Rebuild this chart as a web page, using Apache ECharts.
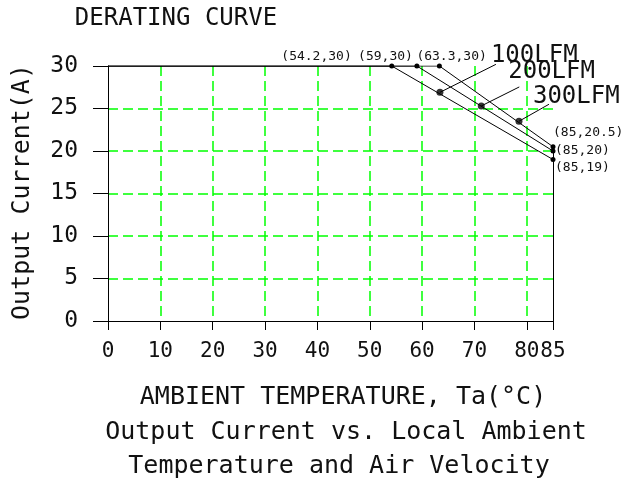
<!DOCTYPE html>
<html>
<head>
<meta charset="utf-8">
<script src="https://cdn.jsdelivr.net/npm/echarts@6/dist/echarts.min.js"></script>
<style>
html,body{margin:0;padding:0;background:#fff;}
#chart{width:626px;height:482px;}
</style>
</head>
<body>
<div id="chart"></div>
<script>
// ---- data ----
const chartTitle = 'DERATING CURVE';
const xAxisTitle = 'AMBIENT TEMPERATURE, Ta(°C)';
const subTitle1 = 'Output Current vs. Local Ambient';
const subTitle2 = 'Temperature and Air Velocity';
const yAxisTitle = 'Output Current(A)';
const xMin = 0, xMax = 85, xStep = 10;
const yMin = 0, yMax = 30, yStep = 5;
const flowNames = ['100LFM', '200LFM', '300LFM'];
const curve100 = [[0, 30], [54.2, 30], [85, 19]];
const curve200 = [[0, 30], [59, 30], [85, 20]];
const curve300 = [[0, 30], [63.3, 30], [85, 20.5]];
const leaderAnchors = [[63.4, 26.9], [71.3, 25.3], [78.5, 23.5]];
const edgeLine = [[85, 0], [85, 20.5]];

// ---- styles / layout (not data) ----
const MONO = '"DejaVu Sans Mono", "Liberation Mono", monospace';
const GREEN = '#00ff00';
const curves = [curve100, curve200, curve300];
// per-curve point label offsets: [knee, end]
const pointLabelStyle = [
  [{dx: -40, dy: -9, align: 'right'}, {dx: 2, dy: 8, align: 'left'}],
  [{dx: -4, dy: -9, align: 'right'}, {dx: 2, dy: 0, align: 'left'}],
  [{dx: -23, dy: -9, align: 'left'}, {dx: 0, dy: -14, align: 'left'}]
];
const leaderEnd = [[56, -28], [38, -19], [30, -17]];
const leaderText = [[51, -37], [27, -34], [14, -24]];

const chart = echarts.init(document.getElementById('chart'), null, {renderer: 'canvas'});

const series = curves.map((c, i) => ({
  type: 'line',
  name: flowNames[i],
  data: c.map((p, j) => ({value: p, symbol: j === 0 ? 'none' : 'circle'})),
  symbolSize: 5,
  lineStyle: {color: '#000', width: 1},
  itemStyle: {color: '#000'},
  animation: false,
  z: 5,
  markLine: i === 2 ? {
    silent: true, symbol: 'none', animation: false,
    lineStyle: {color: '#000', width: 1, type: 'solid'},
    label: {show: false},
    data: [[{coord: edgeLine[0]}, {coord: edgeLine[1]}]]
  } : undefined
}));
series.push({
  type: 'scatter',
  data: leaderAnchors,
  symbolSize: 7,
  itemStyle: {color: '#000'},
  animation: false,
  z: 6
});

chart.setOption({
  backgroundColor: '#fff',
  animation: false,
  grid: {left: 108, right: 73, top: 66, bottom: 161, containLabel: false},
  xAxis: {
    type: 'value', min: xMin, max: xMax, interval: xStep,
    axisLine: {show: true, onZero: false, lineStyle: {color: '#000', width: 1}},
    axisTick: {show: true, length: 9, lineStyle: {color: '#000', width: 1}},
    axisLabel: {show: true, margin: 20, color: '#111', fontFamily: MONO, fontSize: 21, showMaxLabel: true, hideOverlap: false},
    splitLine: {show: true, showMinLine: false, showMaxLine: false, lineStyle: {color: GREEN, width: 1.5, type: [10, 5]}}
  },
  yAxis: {
    type: 'value', min: yMin, max: yMax, interval: yStep,
    axisLine: {show: true, onZero: false, lineStyle: {color: '#000', width: 1}},
    axisTick: {show: true, length: 15, lineStyle: {color: '#000', width: 1}},
    axisLabel: {show: true, margin: 30, color: '#111', fontFamily: MONO, fontSize: 23},
    splitLine: {show: true, showMinLine: false, showMaxLine: false, lineStyle: {color: GREEN, width: 1.5, type: [10, 5]}}
  },
  series: series
});

const px = p => chart.convertToPixel({gridIndex: 0}, p);
const graphics = [];
function text(str, x, y, size, align, extra) {
  graphics.push(Object.assign({
    type: 'text', x: x, y: y, silent: true,
    style: {text: str, fill: '#111', font: size + 'px ' + MONO, align: align, verticalAlign: 'middle'}
  }, extra || {}));
}
text(chartTitle, 176, 19, 24, 'center');
text(xAxisTitle, 343, 397, 25, 'center');
text(subTitle1, 346, 432, 25, 'center');
text(subTitle2, 339, 466, 25, 'center');
text(yAxisTitle, 22, 192, 25, 'center', {rotation: Math.PI / 2});

curves.forEach((c, i) => {
  [c[1], c[2]].forEach((p, k) => {
    const s = pointLabelStyle[i][k];
    const q = px(p);
    text('(' + p[0] + ',' + p[1] + ')', q[0] + s.dx, q[1] + s.dy, 13, s.align);
  });
  const a = px(leaderAnchors[i]);
  graphics.push({
    type: 'line', silent: true,
    shape: {x1: a[0], y1: a[1], x2: a[0] + leaderEnd[i][0], y2: a[1] + leaderEnd[i][1]},
    style: {stroke: '#000', lineWidth: 1}
  });
  text(flowNames[i], a[0] + leaderText[i][0], a[1] + leaderText[i][1], 24, 'left');
});
chart.setOption({graphic: graphics});
</script>
</body>
</html>
